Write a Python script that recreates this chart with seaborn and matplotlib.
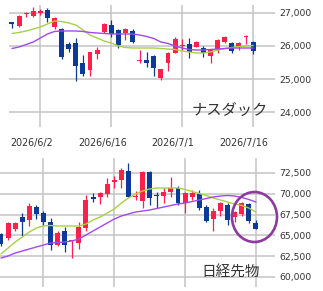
import numpy as np
import pandas as pd
import matplotlib
matplotlib.use("Agg")
import matplotlib.pyplot as plt
import matplotlib.transforms as mtransforms
from matplotlib.patches import Ellipse
import seaborn as sns

# ---------------- data ----------------
nas_open = [26700, 26600, 26960, 26910, 27000, 27090, 26580, 26520, 26060, 26090,
            25480, 25270, 25760, 26420, 26640, 26480, 26390, 26450, 25540, 25580,
            25700, 25030, 25480, 25790, 25990, 26060, 25970, 25940, 25700, 25910,
            26120, 26090, 26000, 26260, 26120]
nas_high = [26710, 26940, 27030, 27180, 27120, 27150, 26880, 26550, 26120, 26240,
            25730, 25820, 25970, 26700, 26790, 26510, 26540, 26510, 25880, 25820,
            25730, 25300, 25820, 26270, 26210, 26240, 26150, 26000, 25910, 26210,
            26300, 26120, 26120, 26330, 26150]
nas_low = [26550, 26580, 26880, 26880, 26940, 26730, 26520, 25610, 25820, 24940,
           25090, 25090, 25610, 26390, 26270, 25940, 26180, 26090, 25480, 25360,
           25090, 24970, 25240, 25790, 25880, 25640, 25970, 25670, 25490, 25790,
           26090, 25790, 25880, 26060, 25760]
nas_close = [26680, 26910, 26975, 27060, 27060, 26850, 26850, 25670, 25910, 25390,
             25150, 25820, 25880, 26670, 26360, 26030, 26510, 26120, 25560, 25480,
             25330, 25300, 25790, 26210, 26010, 25820, 26120, 25790, 25880, 26180,
             26270, 25850, 26090, 26280, 25850]
nas_ma_short = [26379, 26409, 26455, 26515, 26576, 26667, 26758, 26742, 26697, 26636,
                26485, 26333, 26242, 26152, 26091, 26000, 25955, 25939, 25939, 25939,
                25939, 25924, 25909, 25894, 25849, 25818, 25788, 25788, 25818, 25879,
                25924, 25955, 25985, 26000, 26015]
nas_ma_long = [25924, 25970, 26045, 26121, 26242, 26364, 26440, 26455, 26455, 26455,
               26440, 26409, 26394, 26379, 26364, 26364, 26364, 26364, 26333, 26288,
               26227, 26121, 26076, 26000, 25939, 25894, 25879, 25879, 25894, 25909,
               25924, 25939, 25939, 25939, 25939]

nk_open = [65170, 64690, 65770, 67210, 66850, 68410, 67690, 66610, 63850, 65530,
           64290, 64090, 65890, 69420, 69620, 69980, 71420, 71700, 72740, 69600,
           69140, 72620, 69770, 69740, 70220, 70700, 68900, 69620, 69980, 68410,
           66970, 67930, 68660, 67210, 67570, 68780, 66490]
nk_high = [65290, 66610, 66610, 67690, 68900, 68660, 67930, 67090, 65530, 66010,
           64400, 66610, 69860, 70100, 70220, 71900, 72140, 73100, 73700, 70340,
           72740, 72740, 70220, 70700, 72020, 70940, 70220, 70460, 70460, 68660,
           68290, 69020, 68900, 67930, 69020, 68900, 66850]
nk_low = [63730, 64450, 65530, 64930, 66130, 66970, 66250, 63250, 63730, 63010,
          62290, 63370, 65530, 69020, 68780, 69620, 70700, 70700, 69620, 69260,
          68290, 68660, 68290, 68900, 69620, 68660, 67690, 69260, 68050, 66610,
          65530, 67330, 66250, 66610, 67330, 66490, 65770]
nk_close = [63970, 66490, 66490, 66610, 68530, 67570, 66610, 63850, 65290, 63850,
            64330, 66010, 69260, 69380, 70100, 71180, 71540, 72860, 69620, 69660,
            72620, 69500, 69720, 70220, 70700, 68900, 70100, 70100, 68290, 66730,
            67930, 68900, 66850, 67810, 68900, 66730, 65770]
nk_ma_short = [62764, 63485, 64206, 64807, 65408, 65889, 66129, 66190, 66129, 66129,
               66129, 66129, 66370, 66851, 67211, 67692, 68173, 68894, 69495, 69976,
               70336, 70577, 70697, 70697, 70697, 70697, 70517, 70277, 70036, 69796,
               69495, 69255, 69014, 68774, 68594, 68293, 67812]
nk_ma_long = [62283, 62523, 62884, 63124, 63365, 63605, 63846, 64086, 64146, 64206,
              64326, 64567, 65048, 65528, 66009, 66490, 66971, 67331, 67572, 67812,
              67932, 68053, 68233, 68413, 68594, 68774, 68894, 69074, 69255, 69435,
              69615, 69735, 69796, 69735, 69555, 69315, 69014]

nas_yticks = [24000, 25000, 26000, 27000]
nk_yticks = [60000, 62500, 65000, 67500, 70000, 72500]
date_labels = ["2026/6/2", "2026/6/16", "2026/7/1", "2026/7/16"]
nas_date_idx = [4, 14, 24, 34]
nk_date_idx = [6, 16, 26, 36]

# ---------------- style ----------------
sns.set_theme(style="white")
plt.rcParams['font.family'] = ['DejaVu Sans', 'Noto Sans CJK JP']

UP = "#ff1f4b"
DOWN = "#0b3a98"
MA_S = "#a6d243"
MA_L = "#a347f5"
GRID = "#c4c4c4"
TXT = "#333333"

W, H = 323, 291
fig = plt.figure(figsize=(W / 100, H / 100), dpi=100)
fig.patch.set_facecolor("white")


def px_axes(l, t, r, b):
    return fig.add_axes([l / W, 1 - b / H, (r - l) / W, (b - t) / H])


def draw(ax, o, h, l, c, ma_s, ma_l, yticks, xticks, xlim, ylim, show_dates):
    df = pd.DataFrame({"i": np.arange(len(o)), "o": o, "h": h, "l": l, "c": c,
                       "ms": ma_s, "ml": ma_l})
    ax.set_xlim(*xlim)
    ax.set_ylim(*ylim)
    ax.set_yticks(yticks)
    ax.set_xticks(xticks)
    ax.grid(True, color=GRID, lw=1.1, zorder=0)
    ax.set_axisbelow(True)
    for s in ax.spines.values():
        s.set_visible(False)
    ax.yaxis.tick_right()
    ax.set_yticklabels([f"{v:,}" for v in yticks])
    ax.tick_params(axis="y", length=0, pad=3, labelsize=6.7, labelcolor=TXT)
    if show_dates:
        ax.set_xticklabels(date_labels)
        ax.tick_params(axis="x", length=0, pad=8, labelsize=6.9, labelcolor=TXT)
        off = mtransforms.ScaledTranslation(-9 / 100, 0, fig.dpi_scale_trans)
        for lab in ax.get_xticklabels():
            lab.set_transform(lab.get_transform() + off)
    else:
        ax.set_xticklabels([])
        ax.tick_params(axis="x", length=0)
    ax.set_xlabel("")
    ax.set_ylabel("")

    up = df["c"] >= df["o"]
    cols = np.where(up, UP, DOWN)
    ax.vlines(df["i"], df["l"], df["h"], colors=cols, lw=0.9, zorder=3)
    bottoms = np.minimum(df["o"], df["c"])
    heights = np.maximum(np.abs(df["c"] - df["o"]), (ylim[1] - ylim[0]) * 0.012)
    ax.bar(df["i"], heights, bottom=bottoms, width=0.7, color=cols, lw=0, zorder=4)

    sns.lineplot(data=df, x="i", y="ms", ax=ax, color=MA_S, lw=1.0, legend=False, zorder=5)
    sns.lineplot(data=df, x="i", y="ml", ax=ax, color=MA_L, lw=1.0, legend=False, zorder=5)
    ax.set_xlabel("")
    ax.set_ylabel("")


ax1 = px_axes(9, 5, 275, 127)
draw(ax1, nas_open, nas_high, nas_low, nas_close, nas_ma_short, nas_ma_long,
     nas_yticks, nas_date_idx, (-0.42, 37.09), (23546, 27242), True)
ax1.text(0.974, 0.14, "ナスダック", transform=ax1.transAxes, ha="right", va="center",
         fontsize=11, color=TXT, family=["Noto Sans CJK JP"], zorder=6)

ax2 = px_axes(0, 158, 275, 287)
draw(ax2, nk_open, nk_high, nk_low, nk_close, nk_ma_short, nk_ma_long,
     nk_yticks, nk_date_idx, (-0.14, 38.7), (58797, 74303), False)
ax2.text(0.945, 0.11, "日経先物", transform=ax2.transAxes, ha="right", va="center",
         fontsize=10.5, color=TXT, family=["Noto Sans CJK JP"], zorder=6)
ax2.add_patch(Ellipse((35.8, 67211), 6.36, 6010, fill=False, ec="#8c3b9c", lw=1.9,
                      clip_on=False, zorder=7))

fig.savefig("out.png", dpi=100, facecolor="white")
